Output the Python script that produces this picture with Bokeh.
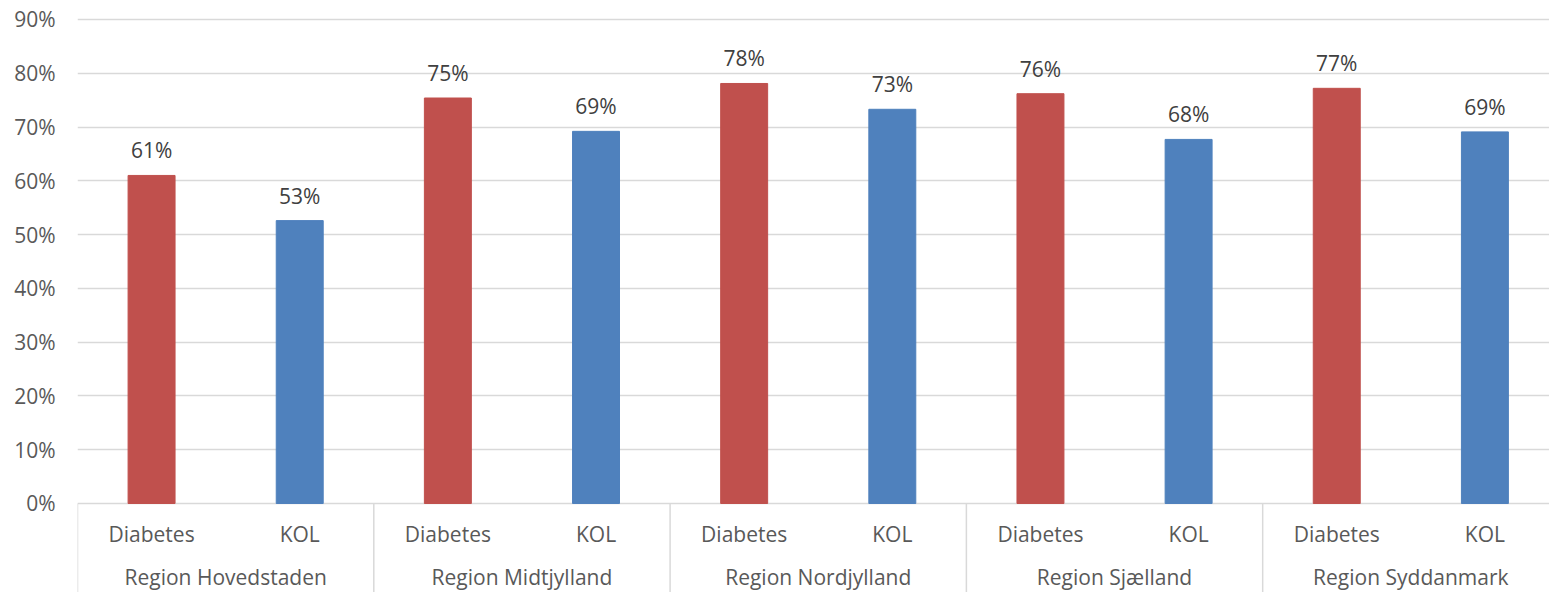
import numpy as np
from bokeh.plotting import figure
from bokeh.models import Range1d, FixedTicker, PrintfTickFormatter, ColumnDataSource
from bokeh.core.properties import value
from bokeh.embed import file_html
from bokeh.resources import INLINE

regions = ["Region Hovedstaden", "Region Midtjylland", "Region Nordjylland",
           "Region Sjælland", "Region Syddanmark"]
series = ["Diabetes", "KOL"]
diabetes = [61.0, 75.4, 78.1, 76.2, 77.2]
kol = [52.6, 69.2, 73.3, 67.7, 69.1]
y_ticks = [0, 10, 20, 30, 40, 50, 60, 70, 80, 90]

FONT = "Open Sans"
FS = "21px"
RED = "#C0504D"
BLUE = "#4F81BD"
GRID = "#D9D9D9"
TXT = "#595959"

n = len(regions)
ng = len(series)

p = figure(width=1549, height=592, output_backend="svg", toolbar_location=None,
           x_range=Range1d(0, 9.936), y_range=Range1d(-16.55, 93.53),
           x_axis_location=None, min_border_left=77, min_border_right=0,
           min_border_top=0, min_border_bottom=0)
p.outline_line_color = None
p.background_fill_color = "white"
p.border_fill_color = "white"
p.xgrid.visible = False

p.yaxis.ticker = FixedTicker(ticks=y_ticks)
p.yaxis.formatter = PrintfTickFormatter(format="%d%%")
p.yaxis.axis_line_color = None
p.yaxis.major_tick_line_color = None
p.yaxis.minor_tick_line_color = None
p.yaxis.major_tick_out = 0
p.yaxis.major_label_standoff = 22
p.yaxis.major_label_text_font = FONT
p.yaxis.major_label_text_font_size = FS
p.yaxis.major_label_text_color = TXT
p.ygrid.ticker = FixedTicker(ticks=y_ticks)
p.ygrid.grid_line_color = GRID
p.ygrid.grid_line_width = 1.5

# bars
idx = np.arange(n)
x_d = idx * ng + 0.5
x_k = idx * ng + 1.5
src_d = ColumnDataSource(dict(x=x_d, top=diabetes,
                              lab=[f"{round(v):d}%" for v in diabetes]))
src_k = ColumnDataSource(dict(x=x_k, top=kol,
                              lab=[f"{round(v):d}%" for v in kol]))
p.vbar(x="x", top="top", bottom=0, width=0.317, color=RED, source=src_d)
p.vbar(x="x", top="top", bottom=0, width=0.317, color=BLUE, source=src_k)

for s in (src_d, src_k):
    p.text(x="x", y="top", text="lab", source=s, text_align="center",
           text_baseline="bottom", y_offset=-11, text_font=value(FONT),
           text_font_size=FS, text_color="#404040")

# category axis (two levels) drawn in the frame below zero
sep_x = list(np.arange(n + 1) * ng)
p.segment(x0=sep_x, y0=[0] * len(sep_x), x1=sep_x, y1=[-17] * len(sep_x),
          line_color=GRID, line_width=1.5)

sub_x = list(x_d) + list(x_k)
sub_lab = [series[0]] * n + [series[1]] * n
p.text(x=sub_x, y=[-5.6] * len(sub_x), text=sub_lab, text_align="center",
       text_baseline="middle", text_font=value(FONT), text_font_size=FS,
       text_color=TXT)
grp_x = list(idx * ng + ng / 2)
p.text(x=grp_x, y=[-13.6] * n, text=regions, text_align="center",
       text_baseline="middle", text_font=value(FONT), text_font_size=FS,
       text_color=TXT)

open("out.html", "w").write(file_html(p, INLINE))
